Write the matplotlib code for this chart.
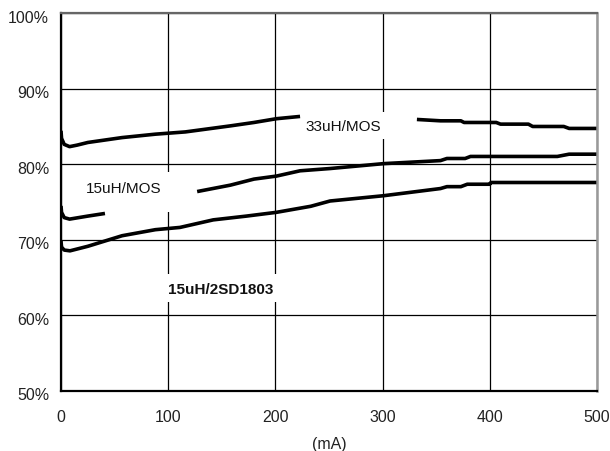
import numpy as np
import matplotlib
matplotlib.use("Agg")
import matplotlib.pyplot as plt
from matplotlib.patches import Rectangle
import matplotlib.transforms as mtransforms

plt.rcParams['font.family'] = ['Liberation Sans', 'DejaVu Sans']

# ---- data (current in mA, efficiency in %) ; NaN = gap in the printed curve ----
x_33uH_mos = [0, 0.5, 3, 8, 15, 25, 57, 88, 116, 158, 180, 201, 223, np.nan,
              332, 354, 373, 376, 406, 410, 436, 440, 469, 474, 500]
y_33uH_mos = [84.4, 83.4, 82.6, 82.3, 82.5, 82.85, 83.5, 83.95, 84.25, 85.05, 85.5, 86.0, 86.3, np.nan,
              85.9, 85.72, 85.72, 85.5, 85.5, 85.28, 85.28, 84.97, 84.97, 84.71, 84.71]

x_15uH_mos = [0, 0.5, 3, 8, 25, 41, np.nan,
              127, 158, 180, 201, 223, 251, 301, 354, 360, 377, 382, 463, 474, 500]
y_15uH_mos = [74.45, 73.6, 72.9, 72.7, 73.1, 73.45, np.nan,
              76.35, 77.2, 78.0, 78.4, 79.1, 79.4, 80.05, 80.45, 80.73, 80.73, 81.0, 81.0, 81.3, 81.3]

x_15uH_2sd = [0, 0.5, 3, 8.4, 25, 57, 88, 111, 142, 173, 201, 233, 251, 301, 354, 360, 373,
              379, 400, 401, 500]
y_15uH_2sd = [69.8, 69.0, 68.6, 68.5, 69.1, 70.5, 71.3, 71.6, 72.6, 73.1, 73.6, 74.4, 75.1, 75.8, 76.75, 77.0, 77.0,
              77.32, 77.32, 77.55, 77.55]

x_ticks = [0, 100, 200, 300, 400, 500]
y_ticks = [50, 60, 70, 80, 90, 100]
y_tick_labels = ["50%", "60%", "70%", "80%", "90%", "100%"]

label_33 = "33uH/MOS"
label_15mos = "15uH/MOS"
label_15sd = "15uH/2SD1803"

# ---- figure ----
fig = plt.figure(figsize=(6.10, 4.52), dpi=100)
ax = fig.add_axes([61/610, 1 - 391.5/452, (597-61)/610, (391.5-14)/452])

ax.set_xlim(0, 500)
ax.set_ylim(50, 100)
ax.set_xticks(x_ticks)
ax.set_yticks(y_ticks)
ax.set_yticklabels(y_tick_labels)
ax.tick_params(axis='both', length=0, labelsize=11.5, colors='#222222')
ax.tick_params(axis='y', pad=8.5)
ax.tick_params(axis='x', pad=13)

ax.set_axisbelow(True)
ax.grid(True, color='black', linewidth=0.9)

for s in ['left', 'bottom']:
    ax.spines[s].set_color('black')
    ax.spines[s].set_linewidth(1.6)
ax.spines['top'].set_color('#666666')
ax.spines['top'].set_linewidth(1.6)
ax.spines['right'].set_color('#999999')
ax.spines['right'].set_linewidth(1.8)

# white boxes behind labels (hide grid)
for (x0, y0, w, h) in [(226, 83.3, 104, 3.6), (50, 73.6, 70, 5.3), (95, 61.7, 110, 3.7)]:
    ax.add_patch(Rectangle((x0, y0), w, h, facecolor='white', edgecolor='none', zorder=1))

lw = 2.6
ax.plot(x_33uH_mos, y_33uH_mos, color='black', lw=lw, zorder=2, solid_capstyle='butt')
ax.plot(x_15uH_mos, y_15uH_mos, color='black', lw=lw, zorder=2, solid_capstyle='butt')
ax.plot(x_15uH_2sd, y_15uH_2sd, color='black', lw=lw, zorder=2, solid_capstyle='butt')

ax.text(263.5, 85.05, label_33, fontsize=11, ha='center', va='center', color='#111111', zorder=3)
ax.text(58.8, 76.8, label_15mos, fontsize=11, ha='center', va='center', color='#111111', zorder=3)
ax.text(149, 63.4, label_15sd, fontsize=11, fontweight='bold', ha='center', va='center',
        color='#111111', zorder=3)

ax.set_xlabel("(mA)", fontsize=11.5, color='#222222')
ax.xaxis.set_label_coords(0.5, -0.12)

off = mtransforms.ScaledTranslation(0, -3/100, fig.dpi_scale_trans)
for lab in ax.get_yticklabels():
    lab.set_transform(lab.get_transform() + off)

fig.savefig("out.png", dpi=100)
